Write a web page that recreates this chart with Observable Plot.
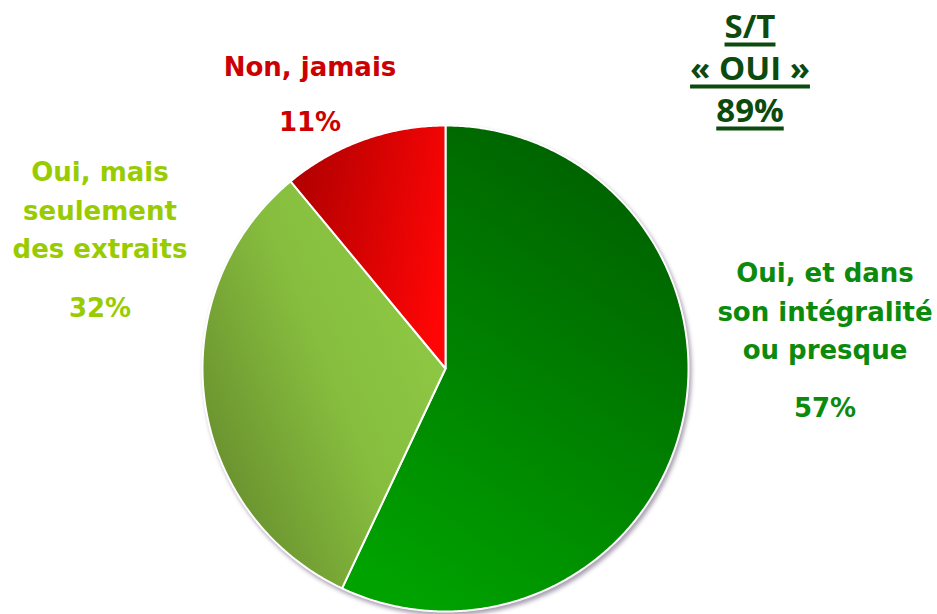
<!DOCTYPE html>
<html><head><meta charset="utf-8">
<script src="https://cdn.jsdelivr.net/npm/d3@7"></script>
<script src="https://cdn.jsdelivr.net/npm/@observablehq/plot@0.6"></script>
<style>
html,body{margin:0;padding:0;background:#fff;}
#wrap{position:relative;width:937px;height:614px;overflow:hidden;}
.lbl{position:absolute;transform:translate(-50%,-50%);white-space:nowrap;line-height:1;font-family:"DejaVu Sans",sans-serif;font-weight:bold;font-size:26px;}
.st{font-family:"Open Sans","Liberation Sans",sans-serif;font-weight:bold;font-size:33px;text-decoration:underline;text-decoration-thickness:4px;text-underline-offset:5px;color:#0d4a0d;}
</style></head>
<body><div id="wrap"></div>
<script>
const categories = ["Oui, et dans son intégralité ou presque", "Oui, mais seulement des extraits", "Non, jamais"];
const values = [57, 32, 11];
const percentLabels = ["57%", "32%", "11%"];
const gradientIds = ["gGreen", "gLight", "gRed"];
const textColors = ["#0b8a0b", "#99cc00", "#cc0000"];
const labelLines = [["Oui, et dans", "son intégralité", "ou presque"], ["Oui, mais", "seulement", "des extraits"], ["Non, jamais"]];
const totalLines = ["S/T", "« OUI »", "89%"];

const arcs = d3.pie().sort(null).value(d => d)(values);
const pts = [];
arcs.forEach((a, i) => {
  pts.push({k: i, x: 0, y: 0, fill: `url(#${gradientIds[i]})`});
  const n = Math.max(2, Math.ceil((a.endAngle - a.startAngle) / (Math.PI / 360)));
  for (let j = 0; j <= n; j++) {
    const t = a.startAngle + (a.endAngle - a.startAngle) * j / n;
    pts.push({k: i, x: Math.sin(t), y: Math.cos(t), fill: `url(#${gradientIds[i]})`});
  }
  pts.push({k: i, x: 0, y: 0, fill: `url(#${gradientIds[i]})`});
});

const cx = 445, cy = 368, r = 243;
const svg = Plot.plot({
  width: 937, height: 614, margin: 0,
  x: {domain: [-1, 1], range: [cx - r, cx + r], axis: null},
  y: {domain: [-1, 1], range: [cy + r, cy - r], axis: null},
  color: {type: "identity"},
  marks: [
    Plot.line(pts, {x: "x", y: "y", z: "k", fill: "fill", stroke: "white", strokeWidth: 2, strokeLinejoin: "round", curve: "linear"})
  ]
});
svg.insertAdjacentHTML("afterbegin", `<defs>
<linearGradient id="gGreen" x1="0.75" y1="0" x2="0.25" y2="1"><stop offset="0" stop-color="#005e00"/><stop offset="1" stop-color="#00a200"/></linearGradient>
<linearGradient id="gLight" x1="1" y1="0.2" x2="0" y2="0.9"><stop offset="0" stop-color="#8fcb45"/><stop offset="0.45" stop-color="#86bd3e"/><stop offset="1" stop-color="#62852a"/></linearGradient>
<linearGradient id="gRed" x1="0" y1="0.3" x2="1" y2="0.6"><stop offset="0" stop-color="#b00000"/><stop offset="1" stop-color="#ff0505"/></linearGradient>
</defs>`);
svg.querySelector("g[aria-label='line']").style.filter = "drop-shadow(2px 3px 2px rgba(60,40,80,0.45))";

const wrap = document.getElementById("wrap");
wrap.appendChild(svg);
svg.style.position = "absolute"; svg.style.left = "0"; svg.style.top = "0";

function addLabel(text, x, y, color, cls) {
  const d = document.createElement("div");
  d.className = cls ? "lbl " + cls : "lbl";
  d.textContent = text;
  d.style.left = x + "px"; d.style.top = y + "px";
  if (color) d.style.color = color;
  wrap.appendChild(d);
}
const labelLayout = [{x: 825, y0: 273, py: 408}, {x: 100, y0: 172, py: 308}, {x: 310, y0: 67, py: 122}];
labelLines.forEach((lines, i) => {
  const L = labelLayout[i];
  lines.forEach((t, j) => addLabel(t, L.x, L.y0 + j * 38.5, textColors[i]));
  addLabel(percentLabels[i], L.x, L.py, textColors[i]);
});
const stY = [25, 67, 109];
totalLines.forEach((t, j) => addLabel(t, 750, stY[j], null, "st"));
</script></body></html>
